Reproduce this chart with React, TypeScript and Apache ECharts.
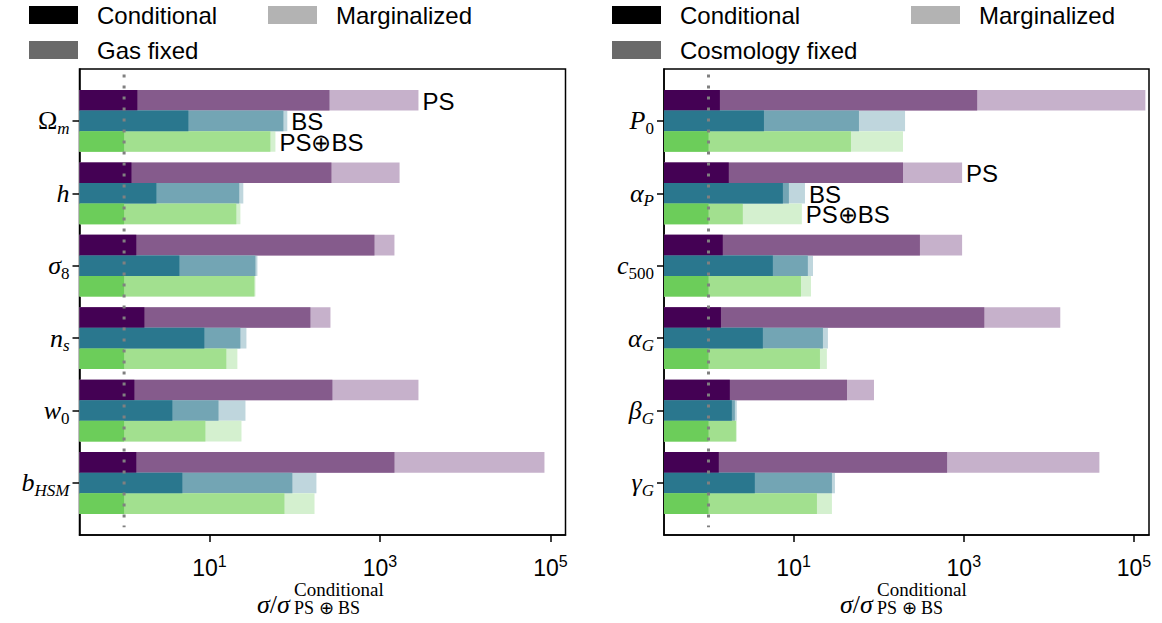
import React, { useEffect, useRef } from 'react';
import * as echarts from 'echarts';

const SANS = '"Liberation Sans", Arial, Helvetica, sans-serif';
const SERIF = '"Liberation Serif", "Times New Roman", serif';

// ---------- data ----------
const probeNames = ['PS', 'BS', 'PS⊕BS'];
const xTickValues = [10, 1000, 100000];
const categoryPositions = [0, 1, 2, 3, 4, 5];

// left panel: cosmological parameters (rich-text labels)
const cosmoLabels = ['{u|Ω}{si|m}', '{i|h}', '{i|σ}{s|8}', '{i|n}{si|s}', '{i|w}{s|0}', '{i|b}{si|HSM}'];
const cosmoPSConditional = [1.43, 1.22, 1.39, 1.73, 1.32, 1.39];
const cosmoPSGasFixed = [256, 270, 863, 153, 277, 1480];
const cosmoPSMarginalized = [2830, 1700, 1480, 263, 2830, 85000];
const cosmoBSConditional = [5.67, 2.39, 4.45, 8.73, 3.68, 4.82];
const cosmoBSGasFixed = [73.8, 22.4, 34.7, 23.1, 12.8, 94];
const cosmoBSMarginalized = [82, 25, 36.6, 27.2, 26.5, 180];
const cosmoJointConditional = [1, 1, 1, 1, 1, 1];
const cosmoJointGasFixed = [51.9, 20.7, 33.7, 15.8, 8.98, 75.9];
const cosmoJointMarginalized = [59.5, 23.1, 34.7, 21.3, 23.8, 171];
const cosmoAnnotatedParam = 0;

// right panel: gas parameters
const gasLabels = ['{i|P}{s|0}', '{i|α}{si|P}', '{i|c}{s|500}', '{i|α}{si|G}', '{i|β}{si|G}', '{i|γ}{si|G}'];
const gasPSConditional = [1.36, 1.73, 1.47, 1.4, 1.78, 1.32];
const gasPSCosmoFixed = [1435, 193, 305, 1740, 42.4, 636];
const gasPSMarginalized = [136000, 955, 955, 13600, 88, 39200];
const gasBSConditional = [4.48, 7.48, 5.7, 4.35, 1.88, 3.5];
const gasBSCosmoFixed = [58.6, 8.8, 14.7, 22.1, 2.04, 28.2];
const gasBSMarginalized = [204, 13.6, 16.9, 25.3, 2.15, 30.6];
const gasJointConditional = [1, 1, 1, 1, 1, 1];
const gasJointCosmoFixed = [47.2, 2.53, 12.2, 20.4, 2.1, 18.8];
const gasJointMarginalized = [193, 12.5, 16.0, 24.6, 2.15, 28.2];
const gasAnnotatedParam = 1;

// reference line at sigma ratio = 1
const refLineX = [1, 1];
const refLineY = [-0.64, 5.61];

// ---------- styles ----------
const X_MIN = 0.3;
const X_MAX = 150000;
const PROBE_STEP = 0.2845;

const colorConditional = ['#440154', '#2a778e', '#6ccd5a'];
const colorFixed = ['#855b8c', '#73a5b4', '#a2e08f'];
const colorMarginalized = ['#c6b1cb', '#bfd6dd', '#d4f0cf'];

const yRich = {
  i: { fontFamily: SERIF, fontStyle: 'italic', fontSize: 26, lineHeight: 32, color: '#000' },
  u: { fontFamily: SERIF, fontSize: 26, lineHeight: 32, color: '#000' },
  s: { fontFamily: SERIF, fontSize: 17, lineHeight: 15, verticalAlign: 'bottom', color: '#000' },
  si: { fontFamily: SERIF, fontStyle: 'italic', fontSize: 17, lineHeight: 15, verticalAlign: 'bottom', color: '#000' },
};
const xRich = {
  b: { fontFamily: SANS, fontSize: 23, lineHeight: 30, color: '#000' },
  sup: { fontFamily: SANS, fontSize: 16, lineHeight: 16, verticalAlign: 'top', color: '#000' },
};

function expOf(v: number) {
  return v >= 8 ? Math.round(Math.log10(v)) : Math.round(v);
}

function makeLayer(
  name: string,
  legendColor: string,
  probeValues: number[][],
  colors: string[],
  axisIndex: number,
  annotatedParam: number | null,
) {
  const data: number[][] = [];
  probeValues.forEach((vals, p) => vals.forEach((v, i) => data.push([v, i, p])));
  return {
    type: 'custom',
    name,
    xAxisIndex: axisIndex,
    yAxisIndex: axisIndex,
    itemStyle: { color: legendColor },
    encode: { x: 0, y: 1 },
    data,
    z: 2,
    renderItem: (params: any, api: any) => {
      const v = api.value(0);
      const i = api.value(1);
      const p = api.value(2);
      const yc = i + (p - 1) * PROBE_STEP;
      const end = api.coord([v, yc]);
      const start = api.coord([X_MIN, yc]);
      const a = api.coord([v, yc - PROBE_STEP / 2]);
      const b = api.coord([v, yc + PROBE_STEP / 2]);
      const h = Math.abs(b[1] - a[1]);
      const children: any[] = [
        {
          type: 'rect',
          shape: { x: start[0], y: end[1] - h / 2, width: end[0] - start[0], height: h },
          style: { fill: colors[p] },
        },
      ];
      if (annotatedParam !== null && i === annotatedParam) {
        children.push({
          type: 'text',
          x: end[0] + 4,
          y: end[1] + 1,
          style: {
            text: probeNames[p],
            fill: '#000',
            font: '24px ' + SANS,
            lineHeight: 19,
            align: 'left',
            verticalAlign: 'middle',
          },
        });
      }
      return { type: 'group', children };
    },
  };
}

function xAxisCfg(gridIndex: number) {
  return {
    type: 'log',
    gridIndex,
    logBase: 10,
    min: X_MIN,
    max: X_MAX,
    axisLine: { show: true, onZero: false, lineStyle: { color: '#000', width: 1.5 } },
    axisTick: { show: true, length: 7, lineStyle: { color: '#000', width: 1.5 }, customValues: xTickValues },
    axisLabel: {
      customValues: xTickValues,
      margin: 18,
      formatter: (v: number) => `{b|10}{sup|${expOf(v)}}`,
      rich: xRich,
    },
    splitLine: { show: false },
    minorTick: { show: false },
  };
}

function yAxisCfg(gridIndex: number, labels: string[]) {
  return {
    type: 'value',
    gridIndex,
    inverse: true,
    min: -0.716,
    max: 5.718,
    axisLine: { show: true, onZero: false, lineStyle: { color: '#000', width: 1.5 } },
    axisTick: { show: true, length: 7, lineStyle: { color: '#000', width: 1.5 }, customValues: categoryPositions },
    axisLabel: {
      customValues: categoryPositions,
      margin: 10,
      formatter: (v: number) => labels[Math.round(v)] ?? '',
      rich: yRich,
    },
    splitLine: { show: false },
  };
}

function legendItem(name: string, left: number, top: number) {
  return {
    data: [{ name, icon: 'rect' }],
    left,
    top,
    padding: 0,
    itemWidth: 49,
    itemHeight: 18,
    selectedMode: false,
    textStyle: { fontFamily: SANS, fontSize: 24, color: '#000', lineHeight: 18, padding: [0, 0, 0, 14] },
  };
}

function titleGraphic(x: number) {
  return [
    {
      type: 'text',
      x,
      y: 604,
      style: {
        text: '{i|σ}{u|/}{i|σ}',
        rich: {
          i: { fontFamily: SERIF, fontStyle: 'italic', fontSize: 26, color: '#000' },
          u: { fontFamily: SERIF, fontSize: 26, color: '#000' },
        },
        fill: '#000',
        verticalAlign: 'middle',
        align: 'left',
      },
    },
    {
      type: 'text',
      x: x + 37,
      y: 589,
      style: { text: 'Conditional', font: '19px ' + SERIF, fill: '#000', verticalAlign: 'middle', align: 'left' },
    },
    {
      type: 'text',
      x: x + 37,
      y: 608,
      style: { text: 'PS ⊕ BS', font: '18px ' + SERIF, fill: '#000', verticalAlign: 'middle', align: 'left' },
    },
  ];
}

export default function App() {
  const ref = useRef<HTMLDivElement>(null);
  useEffect(() => {
    if (!ref.current) return;
    const chart = echarts.init(ref.current, undefined, { renderer: 'svg' });
    const option: any = {
      animation: false,
      backgroundColor: '#fff',
      grid: [
        { left: 79.5, top: 69, width: 486, height: 466, show: true, borderColor: '#000', borderWidth: 1.5 },
        { left: 664, top: 69, width: 485, height: 466, show: true, borderColor: '#000', borderWidth: 1.5 },
      ],
      xAxis: [xAxisCfg(0), xAxisCfg(1)],
      yAxis: [yAxisCfg(0, cosmoLabels), yAxisCfg(1, gasLabels)],
      legend: [
        legendItem('Conditional', 29, 3),
        legendItem('Marginalized', 268, 3),
        legendItem('Gas fixed', 29, 38),
        legendItem('Conditional', 612, 3),
        legendItem('Marginalized', 911, 3),
        legendItem('Cosmology fixed', 612, 38),
      ],
      graphic: [...titleGraphic(257), ...titleGraphic(840)],
      series: [
        makeLayer('Marginalized', '#b3b3b3',
          [cosmoPSMarginalized, cosmoBSMarginalized, cosmoJointMarginalized], colorMarginalized, 0, cosmoAnnotatedParam),
        makeLayer('Gas fixed', '#6a6a6a',
          [cosmoPSGasFixed, cosmoBSGasFixed, cosmoJointGasFixed], colorFixed, 0, null),
        makeLayer('Conditional', '#000000',
          [cosmoPSConditional, cosmoBSConditional, cosmoJointConditional], colorConditional, 0, null),
        makeLayer('Marginalized', '#b3b3b3',
          [gasPSMarginalized, gasBSMarginalized, gasJointMarginalized], colorMarginalized, 1, gasAnnotatedParam),
        makeLayer('Cosmology fixed', '#6a6a6a',
          [gasPSCosmoFixed, gasBSCosmoFixed, gasJointCosmoFixed], colorFixed, 1, null),
        makeLayer('Conditional', '#000000',
          [gasPSConditional, gasBSConditional, gasJointConditional], colorConditional, 1, null),
        {
          type: 'line', xAxisIndex: 0, yAxisIndex: 0, z: 5, symbol: 'none', silent: true,
          data: refLineX.map((x, k) => [x, refLineY[k]]),
          lineStyle: { color: '#808080', width: 3, type: [3, 8] },
        },
        {
          type: 'line', xAxisIndex: 1, yAxisIndex: 1, z: 5, symbol: 'none', silent: true,
          data: refLineX.map((x, k) => [x, refLineY[k]]),
          lineStyle: { color: '#808080', width: 3, type: [3, 8] },
        },
      ],
    };
    chart.setOption(option);
    return () => chart.dispose();
  }, []);
  return <div ref={ref} style={{ position: 'fixed', left: 0, top: 0, width: 1162, height: 623 }} />;
}
